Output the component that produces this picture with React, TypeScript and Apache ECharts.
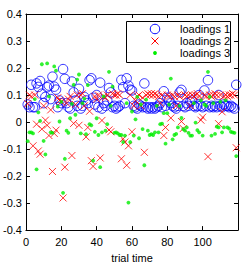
import React, { useEffect, useRef } from "react";
import * as echarts from "echarts";

const trials: number[] = Array.from({ length: 119 }, (_, i) => i + 1);

const loadings1: number[] = [
  0.065, 0.055, 0.138, 0.055, 0.055, 0.143, 0.13, 0.152, 0.105, 0.07, 0.093, 0.129, 0.135, 0.085, 0.168, 0.131, 0.12, 0.055, 0.08, 0.07,
  0.196, 0.16, 0.07, 0.055, 0.05, 0.15, 0.11, 0.08, 0.06, 0.123, 0.05, 0.06, 0.093, 0.08, 0.07, 0.155, 0.162, 0.09, 0.065, 0.1,
  0.055, 0.146, 0.05, 0.07, 0.06, 0.08, 0.126, 0.11, 0.055, 0.06, 0.05, 0.055, 0.06, 0.156, 0.129, 0.07, 0.162, 0.135, 0.12, 0.117,
  0.06, 0.055, 0.05, 0.065, 0.06, 0.055, 0.143, 0.055, 0.05, 0.055, 0.05, 0.055, 0.05, 0.055, 0.06, 0.07, 0.055, 0.114, 0.06, 0.09,
  0.08, 0.07, 0.06, 0.055, 0.05, 0.06, 0.11, 0.119, 0.06, 0.055, 0.07, 0.06, 0.075, 0.08, 0.06, 0.055, 0.06, 0.1, 0.06, 0.055,
  0.117, 0.06, 0.155, 0.055, 0.06, 0.055, 0.06, 0.055, 0.1, 0.06, 0.055, 0.065, 0.06, 0.06, 0.055, 0.06, 0.055, 0.05, 0.138,
];

const loadings2: number[] = [
  0.068, 0.1, 0.095, -0.088, 0.1, -0.008, -0.107, -0.119, -0.026, 0.06, 0.007, -0.012, -0.05, 0.045, -0.183, -0.042, -0.03, 0.09, 0.08, 0.075,
  -0.281, -0.167, 0.07, 0.085, 0.095, -0.124, -0.005, 0.065, 0.1, -0.012, 0.1, 0.105, 0.06, -0.055, -0.02, 0.04, -0.143, -0.164, 0.095, 0.085,
  0.1, -0.133, 0.006, 0.095, 0.09, 0.1, -0.029, -0.036, 0.105, 0.1, 0.1, 0.105, 0.1, -0.136, -0.062, -0.074, -0.16, -0.088, 0.1, -0.036,
  0.06, 0.08, 0.095, 0.1, 0.06, 0.09, -0.112, 0.1, 0.105, 0.1, 0.105, 0.1, 0.105, 0.1, 0.095, 0.07, 0.1, -0.05, -0.02, 0.1,
  0.095, 0.015, 0.1, 0.095, 0.06, 0.1, 0.095, 0.002, -0.024, 0.1, 0.095, 0.1, 0.06, 0.1, 0.095, 0.1, 0.105, 0.095, 0.007, 0.018,
  0.1, 0.095, -0.128, 0.1, 0.095, 0.1, 0.105, 0.1, -0.006, 0.1, 0.038, 0.095, 0.1, 0.095, 0.1, 0.1, 0.105, 0.1, -0.095,
];

const loadings3: number[] = [
  -0.071, -0.038, -0.038, -0.042, 0.085, -0.175, 0.036, 0.004, 0.214, -0.07, -0.12, 0.217, 0.095, -0.038, -0.04, 0.206, 0.19, 0.057, 0.002, 0.075,
  -0.262, -0.136, -0.032, -0.04, 0.014, 0.067, 0.138, 0.027, 0.157, 0.176, -0.042, 0.07, 0.087, -0.045, 0.137, -0.008, -0.012, -0.143, -0.036, 0.014,
  -0.048, -0.167, -0.038, 0.095, -0.032, -0.008, 0.186, 0.06, 0.131, -0.04, -0.038, -0.042, -0.048, -0.048, -0.074, -0.05, 0.07, -0.298, -0.074, 0.039,
  -0.05, 0.01, 0.093, -0.06, 0.065, -0.026, -0.16, 0.083, -0.032, -0.048, -0.045, -0.048, -0.038, 0.06, -0.038, -0.008, -0.006, 0.033, -0.08, 0.033,
  0.065, 0.161, -0.064, -0.048, -0.044, -0.02, 0.06, 0.015, -0.026, -0.032, -0.02, -0.04, -0.05, -0.05, 0.07, -0.002, -0.03, -0.038, 0.08, -0.05,
  0.065, 0.06, 0.186, 0.093, -0.05, 0.07, -0.044, -0.017, -0.02, 0.075, -0.038, -0.02, 0.08, -0.02, -0.024, -0.036, -0.038, -0.04, -0.126,
];

const seriesNames = ["loadings 1", "loadings 2", "loadings 3"];
const xTicks = { min: 0, max: 120, interval: 20 };
const yTicks = { min: -0.4, max: 0.4, interval: 0.1 };
const xLabel = "trial time";

const FONT = "'Liberation Sans', Arial, sans-serif";
const BLUE = "#0000ff";
const RED = "#ff0000";
const GREEN = "#00ee00";

export default function App() {
  const ref = useRef<HTMLDivElement>(null);
  useEffect(() => {
    if (!ref.current) return;
    const chart = echarts.init(ref.current, undefined, { renderer: "svg" });
    const zip = (ys: number[]) => trials.map((t, i) => [t, ys[i]]);
    const axisCommon = {
      axisLine: { show: true, onZero: false, lineStyle: { color: "#000", width: 1 } },
      axisTick: { show: true, inside: true, length: 4, lineStyle: { color: "#000" } },
      splitLine: { show: false },
    };
    const lx = 126, ly = 21, lw = 104, lh = 41;
    const iconX = 155, textX = 180;
    const rows = [29, 41, 53];
    const textStyle = (i: number) => ({
      text: seriesNames[i],
      fill: "#000",
      font: `11px ${FONT}`,
      verticalAlign: "middle",
      align: "left",
    });
    const graphic = [
      {
        type: "rect",
        shape: { x: lx + 0.5, y: ly + 0.5, width: lw, height: lh },
        style: { fill: "#fff", stroke: "#000", lineWidth: 1 },
        z: 100,
      },
      {
        type: "circle",
        shape: { cx: iconX, cy: rows[0], r: 4.75 },
        style: { fill: "transparent", stroke: BLUE, lineWidth: 1 },
        z: 101,
      },
      {
        type: "line",
        shape: { x1: iconX - 3.5, y1: rows[1] - 3.5, x2: iconX + 3.5, y2: rows[1] + 3.5 },
        style: { stroke: RED, lineWidth: 1 },
        z: 101,
      },
      {
        type: "line",
        shape: { x1: iconX - 3.5, y1: rows[1] + 3.5, x2: iconX + 3.5, y2: rows[1] - 3.5 },
        style: { stroke: RED, lineWidth: 1 },
        z: 101,
      },
      {
        type: "circle",
        shape: { cx: iconX, cy: rows[2], r: 1.9 },
        style: { fill: GREEN },
        z: 101,
      },
      { type: "text", x: textX, y: rows[0], style: textStyle(0), z: 101 },
      { type: "text", x: textX, y: rows[1], style: textStyle(1), z: 101 },
      { type: "text", x: textX, y: rows[2], style: textStyle(2), z: 101 },
    ];
    chart.setOption({
      animation: false,
      backgroundColor: "#fff",
      grid: { left: 22, top: 14, right: 8, bottom: 30 },
      graphic,
      xAxis: [
        {
          type: "value",
          min: xTicks.min,
          max: xTicks.max,
          interval: xTicks.interval,
          position: "bottom",
          name: xLabel,
          nameLocation: "middle",
          nameGap: 19,
          nameTextStyle: { fontFamily: FONT, fontSize: 11, color: "#000" },
          axisLabel: { fontFamily: FONT, fontSize: 11, color: "#000", margin: 6, showMaxLabel: false },
          ...axisCommon,
        },
        {
          type: "value",
          min: xTicks.min,
          max: xTicks.max,
          interval: xTicks.interval,
          position: "top",
          axisLabel: { show: false },
          ...axisCommon,
        },
      ],
      yAxis: [
        {
          type: "value",
          min: yTicks.min,
          max: yTicks.max,
          interval: yTicks.interval,
          position: "left",
          axisLabel: {
            fontFamily: FONT,
            fontSize: 11,
            color: "#000",
            margin: 4,
            formatter: (v: number) => String(Math.round(v * 10) / 10),
          },
          ...axisCommon,
        },
        {
          type: "value",
          min: yTicks.min,
          max: yTicks.max,
          interval: yTicks.interval,
          position: "right",
          axisLabel: { show: false },
          ...axisCommon,
        },
      ],
      series: [
        {
          name: seriesNames[0],
          type: "scatter",
          symbol: "circle",
          symbolSize: 9.5,
          itemStyle: { color: "transparent", borderColor: BLUE, borderWidth: 1 },
          data: zip(loadings1),
        },
        {
          name: seriesNames[1],
          type: "scatter",
          symbol: "path://M0,0L10,10M10,0L0,10",
          symbolSize: 7,
          itemStyle: { color: "transparent", borderColor: RED, borderWidth: 1 },
          data: zip(loadings2),
        },
        {
          name: seriesNames[2],
          type: "scatter",
          symbol: "circle",
          symbolSize: 3.8,
          itemStyle: { color: GREEN },
          data: zip(loadings3),
        },
      ],
    });
    return () => chart.dispose();
  }, []);
  return (
    <div
      ref={ref}
      style={{ position: "fixed", left: 0, top: 0, width: 246, height: 268, background: "#fff" }}
    />
  );
}
